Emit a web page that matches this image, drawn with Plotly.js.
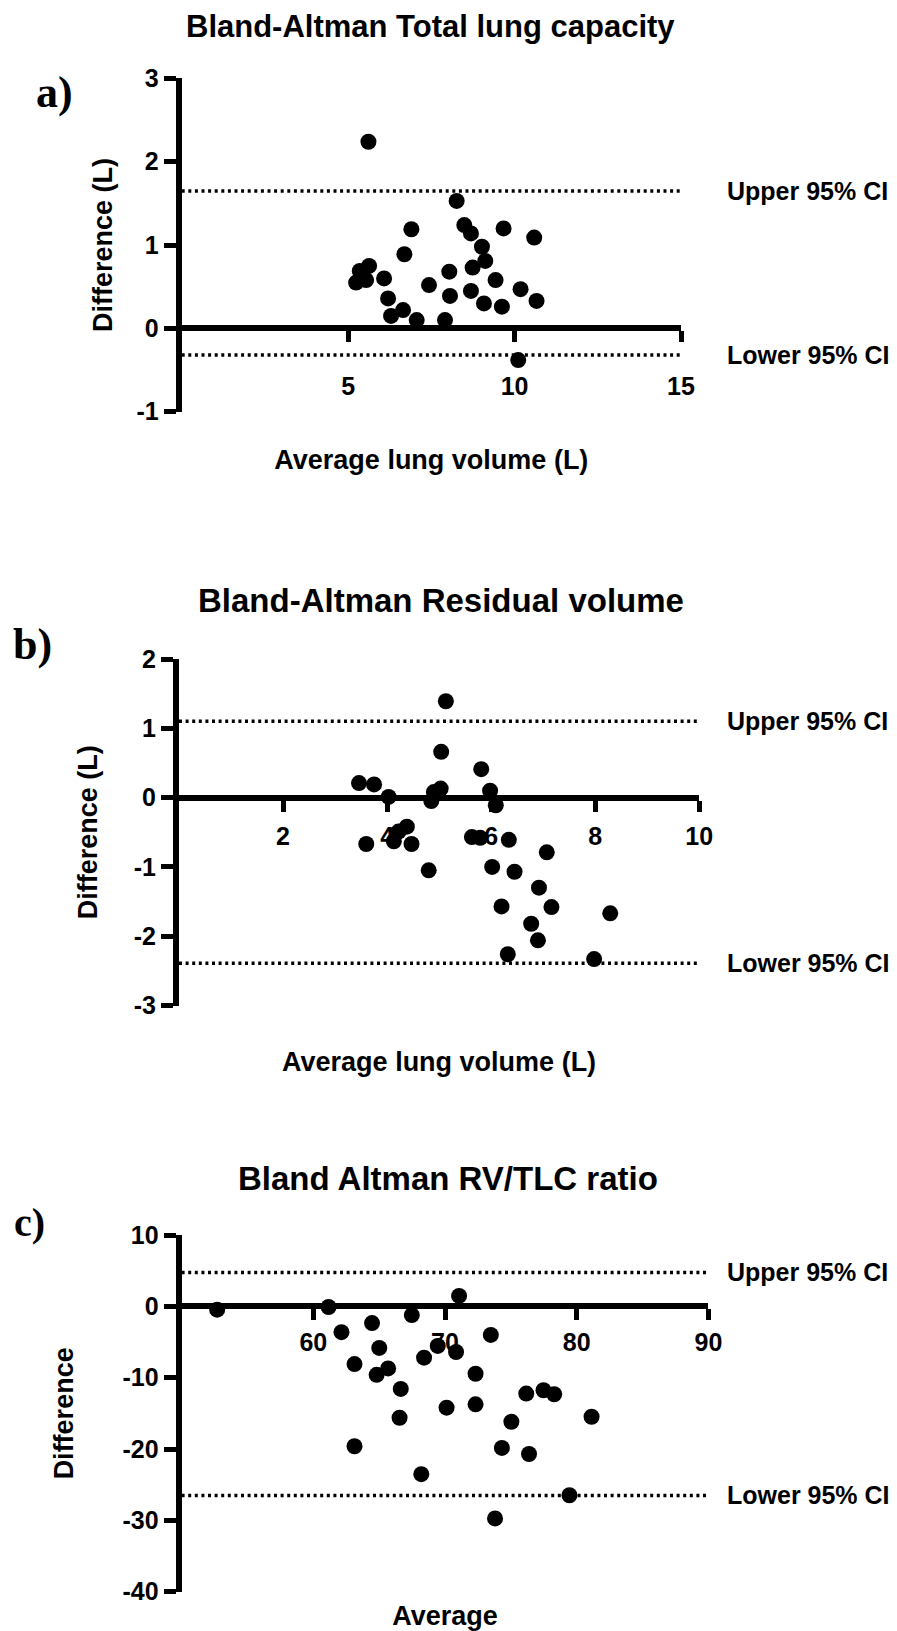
<!DOCTYPE html>
<html>
<head>
<meta charset="utf-8">
<script src="https://cdn.plot.ly/plotly-3.0.1.min.js"></script>
<style>html,body{margin:0;padding:0;background:#fff;}#chart{width:897px;height:1631px;}</style>
</head>
<body>
<div id="chart"></div>
<script>
// ---- Data ----
// a) Total lung capacity
const tlcAverage = [5.61, 8.26, 8.49, 8.69, 9.67, 10.59, 6.90, 6.69, 9.02, 9.12, 8.74, 8.04, 5.35, 5.63, 5.24, 5.54, 6.08, 9.43, 7.43, 6.20, 8.06, 8.69, 10.18, 9.08, 9.62, 10.66, 6.29, 6.65, 7.06, 7.91, 10.11];
const tlcDifference = [2.24, 1.53, 1.24, 1.14, 1.20, 1.09, 1.19, 0.89, 0.98, 0.81, 0.73, 0.68, 0.69, 0.75, 0.55, 0.58, 0.60, 0.58, 0.52, 0.36, 0.39, 0.45, 0.47, 0.30, 0.26, 0.33, 0.15, 0.22, 0.10, 0.10, -0.38];
const tlcLimits = [1.65, -0.32];   // upper, lower 95% CI

// b) Residual volume
const rvAverage = [5.13, 5.04, 5.81, 3.46, 3.75, 4.03, 4.90, 5.03, 4.85, 5.98, 6.09, 3.60, 4.13, 4.22, 4.38, 4.47, 4.80, 5.63, 5.79, 6.34, 7.07, 6.02, 6.45, 6.92, 7.16, 6.20, 8.29, 6.77, 6.90, 6.32, 7.98];
const rvDifference = [1.39, 0.66, 0.41, 0.21, 0.19, 0.01, 0.08, 0.13, -0.05, 0.10, -0.11, -0.67, -0.63, -0.49, -0.42, -0.67, -1.05, -0.57, -0.58, -0.61, -0.79, -1.00, -1.07, -1.30, -1.58, -1.57, -1.67, -1.82, -2.06, -2.26, -2.33];
const rvLimits = [1.10, -2.39];

// c) RV/TLC ratio
const ratioAverage = [52.70, 61.16, 71.07, 62.14, 64.46, 67.48, 73.48, 65.01, 69.45, 70.84, 68.41, 63.13, 65.68, 64.81, 72.32, 66.64, 76.17, 77.48, 78.29, 70.12, 72.32, 66.55, 75.04, 81.13, 63.13, 74.32, 76.38, 68.20, 79.45, 73.80];
const ratioDifference = [-0.47, -0.09, 1.46, -3.62, -2.35, -1.22, -4.00, -5.83, -5.55, -6.40, -7.20, -8.09, -8.70, -9.60, -9.45, -11.57, -12.23, -11.76, -12.32, -14.21, -13.73, -15.62, -16.18, -15.48, -19.61, -19.85, -20.70, -23.52, -26.48, -29.73];
const ratioLimits = [4.75, -26.5];

// ---- Axis ranges and ticks ----
const xRangeA = [0, 15], yRangeA = [-1, 3];
const xTicksA = [5, 10, 15], yTicksA = [-1, 0, 1, 2, 3];
const xRangeB = [0, 10], yRangeB = [-3, 2];
const xTicksB = [2, 4, 6, 8, 10], yTicksB = [-3, -2, -1, 0, 1, 2];
const xRangeC = [50, 90], yRangeC = [-40, 10];
const xTicksC = [60, 70, 80, 90], yTicksC = [-40, -30, -20, -10, 0, 10];

const titles = ['Bland-Altman Total lung capacity', 'Bland-Altman Residual volume', 'Bland Altman RV/TLC ratio'];
const panelTags = ['a)', 'b)', 'c)'];
const xTitles = ['Average lung volume (L)', 'Average lung volume (L)', 'Average'];
const yTitles = ['Difference (L)', 'Difference (L)', 'Difference'];
const limitLabels = ['Upper 95% CI', 'Lower 95% CI'];

// ---- Layout geometry (pixels) ----
const W = 897, H = 1631;
const boxes = [
  {l: 181.7, r: 681.0, t: 78.4, b: 411.7, titleX: 430, titleY: 26, titleSize: 31, tagX: 54, tagY: 93, tagSize: 44, xStandoff: 23, xTitleStand: 50, yTitleStand: 18},
  {l: 179.0, r: 699.2, t: 659.0, b: 1005.5, titleX: 441, titleY: 601, titleSize: 33, tagX: 32, tagY: 644, tagSize: 44, xStandoff: 3, xTitleStand: 203, yTitleStand: 30},
  {l: 181.6, r: 708.4, t: 1235.0, b: 1591.7, titleX: 448, titleY: 1178, titleSize: 33, tagX: 29, tagY: 1222, tagSize: 40, xStandoff: 1, xTitleStand: 256, yTitleStand: 43}
];
const px = p => p / W, py = p => 1 - p / H;

const bold = (size) => ({family: 'Liberation Sans, Arial, Helvetica, sans-serif', size: size, color: '#000', weight: 'bold'});

const panels = [
  {x: tlcAverage, y: tlcDifference, lim: tlcLimits, xr: xRangeA, yr: yRangeA, xt: xTicksA, yt: yTicksA},
  {x: rvAverage, y: rvDifference, lim: rvLimits, xr: xRangeB, yr: yRangeB, xt: xTicksB, yt: yTicksB},
  {x: ratioAverage, y: ratioDifference, lim: ratioLimits, xr: xRangeC, yr: yRangeC, xt: xTicksC, yt: yTicksC}
];

const traces = [];
const layout = {
  width: W, height: H,
  margin: {l: 0, r: 0, t: 0, b: 0},
  paper_bgcolor: '#fff', plot_bgcolor: 'rgba(0,0,0,0)',
  showlegend: false,
  annotations: []
};

panels.forEach((p, i) => {
  const n = i === 0 ? '' : String(i + 1);
  const bx = boxes[i];
  const xd = [px(bx.l), px(bx.r)];
  const yd = [py(bx.b), py(bx.t)];
  const zeroPos = yd[0] + (0 - p.yr[0]) / (p.yr[1] - p.yr[0]) * (yd[1] - yd[0]);

  // limit-of-agreement dotted lines
  p.lim.forEach(v => {
    traces.push({
      type: 'scatter', mode: 'lines', xaxis: 'x' + n, yaxis: 'y' + n,
      x: [p.xr[0], p.xr[1]], y: [v, v],
      line: {color: '#000', width: 3.5, dash: '3px,3.6px'},
      hoverinfo: 'skip'
    });
  });
  // points
  traces.push({
    type: 'scatter', mode: 'markers', xaxis: 'x' + n, yaxis: 'y' + n,
    x: p.x, y: p.y,
    marker: {color: '#000', size: 16},
    cliponaxis: false
  });

  layout['xaxis' + n] = {
    domain: xd, range: p.xr, autorange: false,
    anchor: 'free', position: zeroPos,
    showline: true, linewidth: 6, linecolor: '#000',
    ticks: 'outside', ticklen: 11, tickwidth: 5, tickcolor: '#000',
    tickmode: 'array', tickvals: p.xt, ticktext: p.xt.map(v => String(v)),
    ticklabelstandoff: bx.xStandoff,
    tickfont: bold(25),
    showgrid: false, zeroline: false,
    title: {text: xTitles[i], font: bold(27), standoff: bx.xTitleStand}
  };
  layout['yaxis' + n] = {
    domain: yd, range: p.yr, autorange: false,
    anchor: 'x' + n,
    showline: true, linewidth: 6, linecolor: '#000',
    ticks: 'outside', ticklen: 12, tickwidth: 5, tickcolor: '#000',
    tickmode: 'array', tickvals: p.yt, ticktext: p.yt.map(v => String(v)),
    tickfont: bold(25),
    showgrid: false, zeroline: false,
    title: {text: yTitles[i], font: bold(27), standoff: bx.yTitleStand}
  };

  // panel title
  layout.annotations.push({
    xref: 'paper', yref: 'paper', x: px(bx.titleX), y: py(bx.titleY),
    xanchor: 'center', yanchor: 'middle', showarrow: false,
    text: titles[i], font: bold(bx.titleSize)
  });
  // panel tag
  layout.annotations.push({
    xref: 'paper', yref: 'paper', x: px(bx.tagX), y: py(bx.tagY),
    xanchor: 'center', yanchor: 'middle', showarrow: false,
    text: panelTags[i],
    font: {family: 'Liberation Serif, DejaVu Serif, serif', size: bx.tagSize, color: '#000', weight: 'bold'}
  });
  // limit labels
  p.lim.forEach((v, k) => {
    layout.annotations.push({
      xref: 'paper', yref: 'y' + n, x: px(725), y: v,
      xanchor: 'left', yanchor: 'middle', showarrow: false,
      text: limitLabels[k], font: bold(25)
    });
  });
});

Plotly.newPlot('chart', traces, layout, {displayModeBar: false, staticPlot: true});
</script>
</body>
</html>
